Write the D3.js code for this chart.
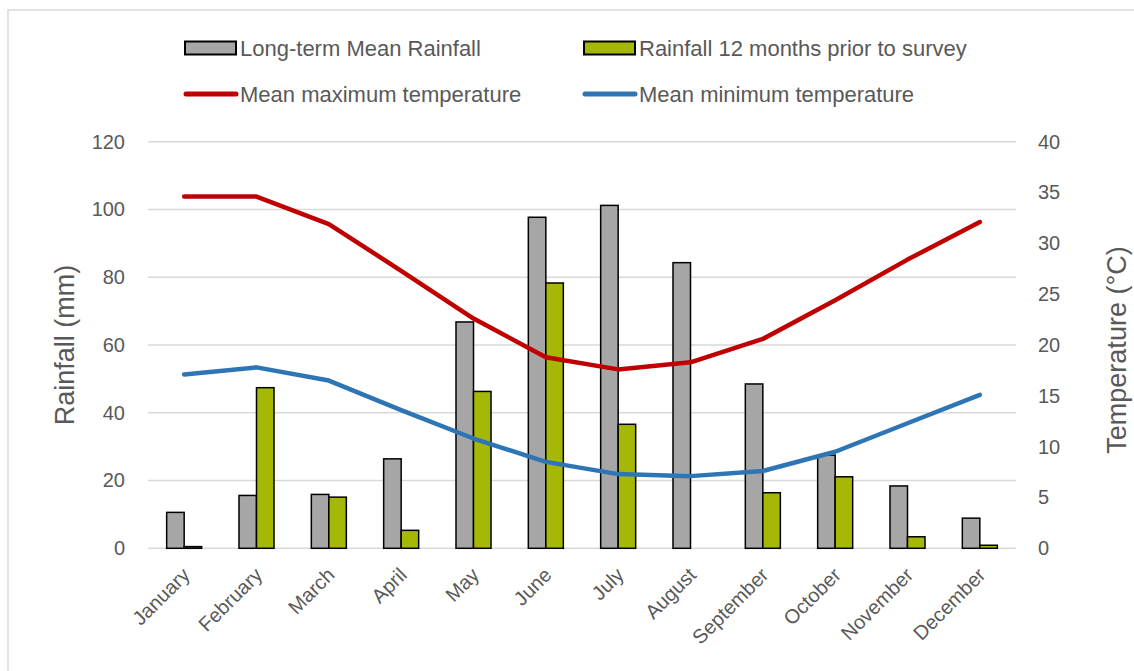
<!DOCTYPE html>
<html>
<head>
<meta charset="utf-8">
<script src="https://cdn.jsdelivr.net/npm/d3@7"></script>
<style>
    body { margin: 0; background: #fff; }
    svg text { font-family: "Liberation Sans", Arial, sans-serif; fill: #595959; }
</style>
</head>
<body>
<div id="chart"></div>
<script>
"use strict";

const months = ["January", "February", "March", "April", "May", "June",
    "July", "August", "September", "October", "November", "December"];
const longTermRain = [10.6, 15.6, 15.9, 26.4, 66.8, 97.7, 101.2, 84.3, 48.5, 27.5, 18.4, 8.9];
const priorRain = [0.5, 47.4, 15.1, 5.3, 46.3, 78.3, 36.6, 0, 16.4, 21.1, 3.4, 0.9];
const maxTemp = [34.6, 34.6, 31.9, 27.3, 22.6, 18.8, 17.6, 18.3, 20.6, 24.4, 28.4, 32.1];
const minTemp = [17.1, 17.8, 16.5, 13.6, 10.8, 8.5, 7.3, 7.1, 7.6, 9.5, 12.3, 15.1];
const rainTicks = [0, 20, 40, 60, 80, 100, 120];
const tempTicks = [0, 5, 10, 15, 20, 25, 30, 35, 40];

(function () {
    const width = 1134;
    const height = 671;
    const left = 148, right = 1016, top = 141.7, bottom = 548.3;

    const svg = d3.select("#chart")
        .append("svg")
        .attr("width", width)
        .attr("height", height);

    // chart border (only top/left visible in the picture)
    svg.append("rect")
        .attr("x", 8).attr("y", 10)
        .attr("width", 1140).attr("height", 680)
        .attr("fill", "none")
        .attr("stroke", "#d9d9d9")
        .attr("stroke-width", 1.5);

    const x0 = d3.scaleBand()
        .domain(months)
        .range([left, right])
        .paddingInner(0.516)
        .paddingOuter(0.258);

    const x1 = d3.scaleBand()
        .domain(["lt", "prior"])
        .range([0, x0.bandwidth()]);

    const yRain = d3.scaleLinear().domain([0, 120]).range([bottom, top]);
    const yTemp = d3.scaleLinear().domain([0, 40]).range([bottom, top]);

    // gridlines
    svg.append("g")
        .selectAll("line")
        .data(rainTicks)
        .enter()
        .append("line")
        .attr("x1", left).attr("x2", right)
        .attr("y1", d => yRain(d)).attr("y2", d => yRain(d))
        .attr("stroke", "#d9d9d9")
        .attr("stroke-width", 1.5);

    // left axis
    const leftAxis = svg.append("g")
        .attr("transform", `translate(${left - 23},0)`)
        .call(d3.axisLeft(yRain).tickValues(rainTicks).tickSize(0).tickPadding(0));
    leftAxis.select(".domain").remove();
    leftAxis.selectAll("text")
        .style("font-size", "20px")
        .attr("fill", "#595959");

    // right axis
    const rightAxis = svg.append("g")
        .attr("transform", `translate(${right + 22},0)`)
        .call(d3.axisRight(yTemp).tickValues(tempTicks).tickSize(0).tickPadding(0));
    rightAxis.select(".domain").remove();
    rightAxis.selectAll("text")
        .style("font-size", "20px")
        .attr("fill", "#595959");

    // bottom labels
    svg.append("g")
        .selectAll("text")
        .data(months)
        .enter()
        .append("text")
        .attr("transform", d => `translate(${x0(d) + x0.bandwidth() / 2 + 2},${bottom + 23}) rotate(-45)`)
        .attr("text-anchor", "end")
        .attr("dy", "0.35em")
        .style("font-size", "20px")
        .text(d => d);

    // bars
    const groups = svg.append("g")
        .selectAll("g")
        .data(months)
        .enter()
        .append("g")
        .attr("transform", d => `translate(${x0(d)},0)`);

    groups.append("rect")
        .attr("x", x1("lt"))
        .attr("width", x1.bandwidth())
        .attr("y", (d, i) => yRain(longTermRain[i]))
        .attr("height", (d, i) => bottom - yRain(longTermRain[i]))
        .attr("fill", "#a6a6a6")
        .attr("stroke", "#000")
        .attr("stroke-width", 1.5);

    groups.filter((d, i) => priorRain[i] > 0)
        .append("rect")
        .attr("x", x1("prior"))
        .attr("width", x1.bandwidth())
        .attr("y", d => yRain(priorRain[months.indexOf(d)]))
        .attr("height", d => bottom - yRain(priorRain[months.indexOf(d)]))
        .attr("fill", "#a5b805")
        .attr("stroke", "#000")
        .attr("stroke-width", 1.5);

    // temperature lines
    const line = d3.line()
        .x((d, i) => x0(months[i]) + x0.bandwidth() / 2)
        .y(d => yTemp(d));

    svg.append("path")
        .datum(maxTemp)
        .attr("d", line)
        .attr("fill", "none")
        .attr("stroke", "#c00000")
        .attr("stroke-width", 4.5)
        .attr("stroke-linecap", "round")
        .attr("stroke-linejoin", "round");

    svg.append("path")
        .datum(minTemp)
        .attr("d", line)
        .attr("fill", "none")
        .attr("stroke", "#2e75b6")
        .attr("stroke-width", 4.5)
        .attr("stroke-linecap", "round")
        .attr("stroke-linejoin", "round");

    // axis titles
    svg.append("text")
        .attr("transform", "translate(65,345) rotate(-90)")
        .attr("text-anchor", "middle")
        .attr("dy", "0.35em")
        .style("font-size", "27px")
        .text("Rainfall (mm)");

    svg.append("text")
        .attr("transform", "translate(1117,350) rotate(-90)")
        .attr("text-anchor", "middle")
        .attr("dy", "0.35em")
        .style("font-size", "27px")
        .text("Temperature (°C)");

    // legend
    const legendItems = [
        { label: "Long-term Mean Rainfall", kind: "bar", color: "#a6a6a6", x: 184, y: 48 },
        { label: "Rainfall 12 months prior to survey", kind: "bar", color: "#a5b805", x: 583, y: 48 },
        { label: "Mean maximum temperature", kind: "line", color: "#c00000", x: 184, y: 94 },
        { label: "Mean minimum temperature", kind: "line", color: "#2e75b6", x: 583, y: 94 }
    ];

    const legend = svg.append("g")
        .selectAll("g")
        .data(legendItems)
        .enter()
        .append("g")
        .attr("transform", d => `translate(${d.x},${d.y})`);

    legend.filter(d => d.kind === "bar")
        .append("rect")
        .attr("x", 1).attr("y", -6.5)
        .attr("width", 51).attr("height", 13)
        .attr("fill", d => d.color)
        .attr("stroke", "#000")
        .attr("stroke-width", 2);

    legend.filter(d => d.kind === "line")
        .append("line")
        .attr("x1", 2).attr("x2", 52)
        .attr("y1", 0).attr("y2", 0)
        .attr("stroke", d => d.color)
        .attr("stroke-width", 5)
        .attr("stroke-linecap", "round");

    legend.append("text")
        .attr("x", 56)
        .attr("dy", "0.35em")
        .style("font-size", "22px")
        .text(d => d.label);
})();
</script>
</body>
</html>
